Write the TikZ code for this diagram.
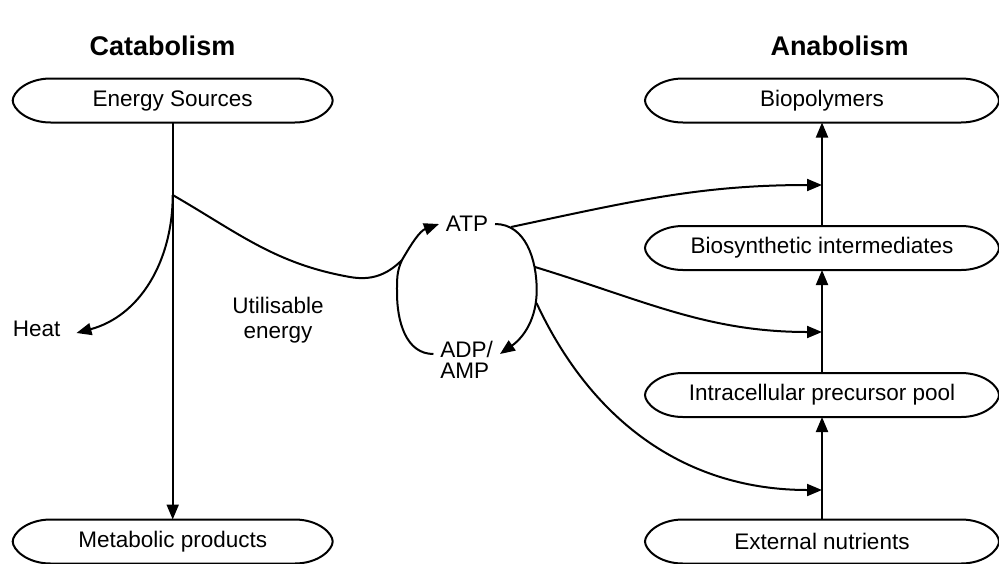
\documentclass[tikz,border=0pt]{standalone}
\usepackage{fontspec}
\setmainfont{Liberation Sans}
\usetikzlibrary{arrows.meta}

\begin{document}
\begin{tikzpicture}[x=0.5pt,y=-0.5pt,>={Triangle[length=7.5pt,width=6pt]},line width=1pt,
  lbl/.style={font=\fontsize{11.25}{12.5}\selectfont,inner sep=3pt},
  term/.style={lbl,minimum width=#1,minimum height=21pt,inner sep=0pt},
  head/.style={font=\fontsize{13.5}{16}\selectfont\bfseries}]
  \useasboundingbox (0,0) rectangle (999,563);
  \node[head] (cat) at (162.5,46) {Catabolism};
  \node[head] (ana) at (839.5,46) {Anabolism};
  \node[term=159pt] (src) at (172.7,100.5) {Energy Sources};
  \node[term=159pt] (met) at (172.7,541.5) {Metabolic products};
  \node[term=176pt] (bpol) at (822,100.5) {Biopolymers};
  \node[term=176pt] (bsyn) at (822,248) {Biosynthetic intermediates};
  \node[term=176pt] (pool) at (822,395) {Intracellular precursor pool};
  \node[term=176pt] (ext) at (822,541.5) {External nutrients};
  \foreach \n in {src,met,bpol,bsyn,pool,ext}
    \draw ([xshift=19pt]\n.north west) -- ([xshift=-19pt]\n.north east)
      .. controls +(12pt,0) and +(0,4pt) .. (\n.east)
      .. controls +(0,-4pt) and +(12pt,0) .. ([xshift=-19pt]\n.south east)
      -- ([xshift=19pt]\n.south west)
      .. controls +(-12pt,0) and +(0,-4pt) .. (\n.west)
      .. controls +(0,4pt) and +(-12pt,0) .. cycle;
  \node[lbl,inner sep=7.5pt] (heat) at (36.7,329) {Heat};
  \node[lbl] (atp) at (467,224) {ATP};
  \node[lbl,align=left,font=\fontsize{11.25}{10.7}\selectfont] (adp) at (466.7,360) {ADP/\\AMP};
  \node[lbl,align=center] (util) at (278,320) {Utilisable\\energy};
  \coordinate (split) at (172.7,195);
  \coordinate (dip) at (350,277);
  \coordinate (join) at (402,260);
  \coordinate (lft) at (397,293);
  \coordinate (rgt) at (536.7,290);
  \coordinate (o1) at (511,227);
  \coordinate (o2) at (535,267);
  \coordinate (o3) at (536.5,303);
  \coordinate (a1) at (822,185);
  \coordinate (a2) at (822,332);
  \coordinate (a3) at (822,490);
  \draw[->] (src.south) -- (met.north);
  \draw[->] (split) to[out=-90,in=15] ([yshift=-2pt]heat.east);
  \draw[->] (split) to[out=-30,in=170] (dip) to[out=-10,in=-135] (join) to[out=60,in=200] (atp.west);
  \draw ([yshift=3pt]adp.west) to[out=180,in=-90] (lft) to[out=90,in=-115] (join);
  \draw[->] (atp.east) to[out=0,in=90] (rgt) to[out=-90,in=35] ([yshift=3pt]adp.east);
  \draw[->] (ext.north) -- (pool.south);
  \draw[->] (pool.north) -- (bsyn.south);
  \draw[->] (bsyn.north) -- (bpol.south);
  \draw[->] (o1) to[out=12,in=180] (a1);
  \draw[->] (o2) to[out=-17,in=180] (a2);
  \draw[->] (o3) to[out=-65,in=180] (a3);
\end{tikzpicture}
\end{document}
